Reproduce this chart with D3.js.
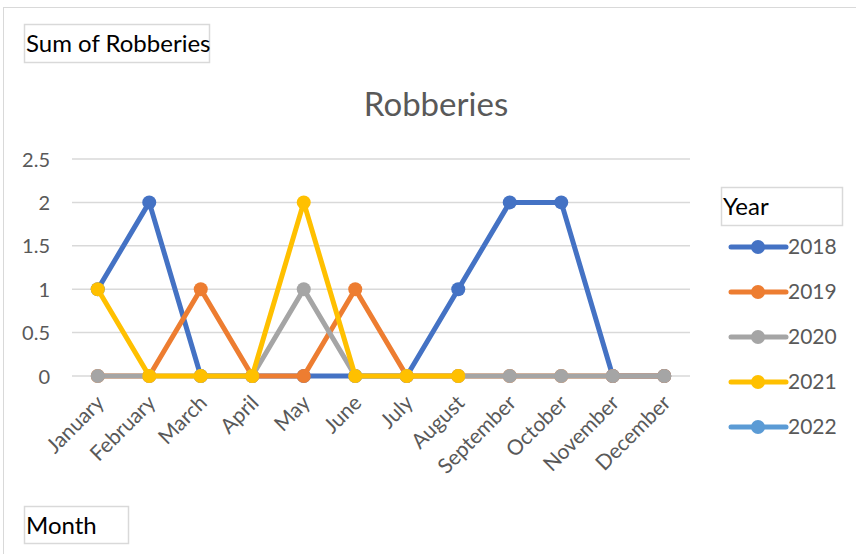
<!DOCTYPE html>
<html>
<head>
<meta charset="utf-8">
<script src="https://cdn.jsdelivr.net/npm/d3@7"></script>
<style>
  html, body { margin: 0; padding: 0; background: #fff; }
  svg { display: block; font-family: Lato, "Open Sans", sans-serif; }
</style>
</head>
<body>
<svg id="chart" width="856" height="554"></svg>
<script>
// Monthly robbery counts per year (pivot: Sum of Robberies by Month and Year)
const months = ["January", "February", "March", "April", "May", "June",
  "July", "August", "September", "October", "November", "December"];
const years = ["2018", "2019", "2020", "2021", "2022"];
const colors = ["#4472C4", "#ED7D31", "#A5A5A5", "#FFC000", "#5B9BD5"];

const robberies2018 = [1, 2, 0, 0, 0, 0, 0, 1, 2, 2, 0, 0];
const robberies2019 = [0, 0, 1, 0, 0, 1, 0, 0, 0, 0, 0, 0];
const robberies2020 = [0, 0, 0, 0, 1, 0, 0, 0, 0, 0, 0, 0];
const robberies2021 = [1, 0, 0, 0, 2, 0, 0, 0, null, null, null, null];
const robberies2022 = [null, null, null, null, null, null, null, null, null, null, null, null];
const seriesValues = [robberies2018, robberies2019, robberies2020, robberies2021, robberies2022];

const yTicks = [0, 0.5, 1, 1.5, 2, 2.5];
const yTickLabels = ["0", "0.5", "1", "1.5", "2", "2.5"];

const svg = d3.select("#chart");

// Chart area frame
svg.append("rect")
  .attr("x", 3.5).attr("y", 7.5)
  .attr("width", 860).attr("height", 560)
  .attr("fill", "#fff").attr("stroke", "#d9d9d9").attr("stroke-width", 1);

// Pivot field buttons
function fieldButton(x, y, w, h, label) {
  svg.append("rect")
    .attr("x", x + 0.5).attr("y", y + 0.5)
    .attr("width", w).attr("height", h)
    .attr("fill", "#fff").attr("stroke", "#d9d9d9").attr("stroke-width", 1.5);
  svg.append("text")
    .attr("x", x + 2).attr("y", y + 28)
    .attr("font-size", 24).attr("fill", "#000")
    .text(label);
}
fieldButton(24, 24, 185, 38, "Sum of Robberies");
fieldButton(24, 506, 104, 37, "Month");
fieldButton(721, 187, 121, 38, "Year");

// Title
svg.append("text")
  .attr("x", 436).attr("y", 116)
  .attr("text-anchor", "middle")
  .attr("font-size", 33).attr("fill", "#595959")
  .text("Robberies");

// Scales
const x = d3.scalePoint().domain(months).range([72, 690]).padding(0.5);
const y = d3.scaleLinear().domain([0, 2.5]).range([376, 159]);

// Horizontal gridlines
svg.append("g")
  .selectAll("line")
  .data(yTicks)
  .join("line")
  .attr("x1", 72).attr("x2", 690)
  .attr("y1", d => y(d)).attr("y2", d => y(d))
  .attr("stroke", "#d9d9d9").attr("stroke-width", 1.5);

// Y axis labels
const yAxis = d3.axisLeft(y)
  .tickValues(yTicks)
  .tickFormat((d, i) => yTickLabels[i])
  .tickSize(0)
  .tickPadding(0);
const yg = svg.append("g").attr("transform", "translate(50,0)").call(yAxis);
yg.select(".domain").remove();
yg.selectAll("text")
  .attr("font-family", "Lato, 'Open Sans', sans-serif")
  .attr("font-size", 20).attr("fill", "#595959")
  .attr("dy", "0.35em");

// X axis labels rotated
const xAxis = d3.axisBottom(x).tickSize(0).tickPadding(0);
const xg = svg.append("g").attr("transform", "translate(0,392)").call(xAxis);
xg.select(".domain").remove();
xg.selectAll("text")
  .attr("font-family", "Lato, 'Open Sans', sans-serif")
  .attr("font-size", 21).attr("fill", "#595959")
  .attr("text-anchor", "end")
  .attr("dy", "0.75em")
  .attr("transform", "translate(-4,1) rotate(-45)");

// Lines and markers for each year
const line = d3.line()
  .defined(d => d.v !== null)
  .x(d => x(d.m))
  .y(d => y(d.v));

const plot = svg.append("g");
years.forEach((yr, i) => {
  const pts = months.map((m, j) => ({ m, v: seriesValues[i][j] }));
  const g = plot.append("g");
  g.append("path")
    .datum(pts)
    .attr("fill", "none")
    .attr("stroke", colors[i])
    .attr("stroke-width", 5)
    .attr("stroke-linejoin", "round")
    .attr("d", line);
  g.selectAll("circle")
    .data(pts.filter(d => d.v !== null))
    .join("circle")
    .attr("cx", d => x(d.m))
    .attr("cy", d => y(d.v))
    .attr("r", 7)
    .attr("fill", colors[i]);
});

// Legend
const legendY = [247, 292, 337, 382, 427];
const legend = svg.append("g");
years.forEach((yr, i) => {
  const g = legend.append("g").attr("transform", `translate(0,${legendY[i]})`);
  g.append("line")
    .attr("x1", 731).attr("x2", 786)
    .attr("stroke", colors[i]).attr("stroke-width", 5)
    .attr("stroke-linecap", "round");
  g.append("circle").attr("cx", 758).attr("r", 7).attr("fill", colors[i]);
  g.append("text")
    .attr("x", 788).attr("dy", "0.35em")
    .attr("font-size", 21).attr("fill", "#595959")
    .text(yr);
});
</script>
</body>
</html>
